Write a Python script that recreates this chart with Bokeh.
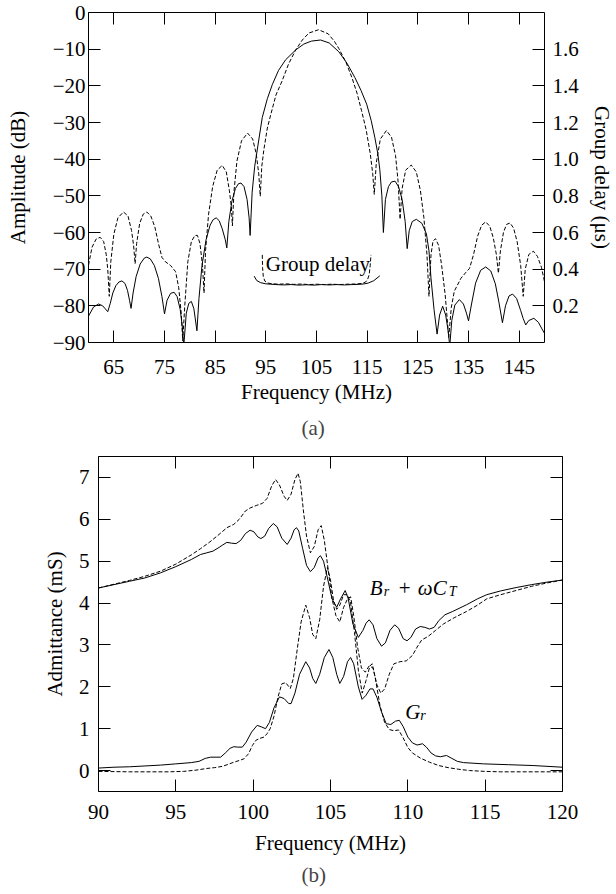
from bokeh.plotting import figure
from bokeh.models import Range1d, LinearAxis, FixedTicker, Label, Title
from bokeh.embed import file_html
from bokeh.resources import INLINE

FONT = "Liberation Serif"
FS = "21px"
SUB = "14px"

# ---------------- (a) frequency response ----------------
amp_solid_f = [60, 61, 62, 62.8, 63.3, 63.8,
               64.3, 64.8, 65.4, 66, 66.6, 67.2, 67.7, 68.1, 68.4,
               68.8, 69.4, 70.2, 71, 71.5, 72.2, 73, 73.8, 74.5, 75,
               75.5, 76.2, 76.9, 77.5, 78.1, 78.5, 78.8,
               79.3, 79.8, 80.3, 80.8, 81.4,
               81.8, 82.4, 83.2, 84, 84.6, 85.2, 85.8, 86.4, 87.0, 87.3,
               87.7, 88.3, 89.0, 89.6, 90.1, 90.7, 91.3, 91.7, 91.9,
               92.3, 92.8, 93.3, 94.3, 95.3, 96.3, 97.5, 98.9, 100.9, 102.5, 104, 105.8,
               107.5, 109.4, 111, 112.6, 113.8, 114.9, 115.8, 116.5, 117.1, 117.5, 117.9, 118.2,
               118.6, 119.2, 119.8, 120.5, 121.2, 121.9, 122.5, 122.9,
               123.3, 123.9, 124.7, 125.8, 126.7, 127.2, 127.6, 128.2, 128.8,
               129.3, 129.9, 130.5, 131.0, 131.3,
               131.7, 132.3, 133.2, 134, 134.6, 135,
               135.6, 136.4, 137.4, 138.4, 139.4, 140.3, 141, 141.7,
               142.3, 143, 143.7, 144.5, 145.3, 145.8, 146.3,
               146.9, 147.9, 148.8, 149.5, 150]
amp_solid_db = [-82.8, -80.3, -79.5, -80, -80.8, -81.6,
                -79.3, -76.5, -74.5, -73.5, -73.2, -73.9, -75.8, -78.5, -80.7,
                -76.5, -72, -68.6, -67, -66.7, -67.2, -69, -72.5, -77.5, -82.2,
                -78.5, -76.6, -76.3, -77.5, -81, -85.5, -91,
                -82, -79.3, -78.8, -80.8, -86.8,
                -78, -69, -62, -58, -56.5, -56, -56.8, -59, -62, -64.2,
                -57, -51.5, -48, -46.7, -46.5, -47.5, -51, -56, -60.8,
                -49, -42, -37.5, -28.6, -23.5, -19.6, -15.8, -12.9, -10.2, -8.6, -7.8, -7.5,
                -8.3, -10.7, -13.8, -17.8, -21.3, -25, -29.5, -34, -38.5, -42.9, -50, -60,
                -51, -47.5, -46.2, -46, -47.5, -51, -57, -64.4,
                -59.5, -57, -56.4, -57.5, -60.4, -65, -72.5, -81, -87.7,
                -82.5, -80.1, -82.5, -87, -91,
                -84, -79.8, -78.3, -79.5, -82, -84.1,
                -79.5, -73.8, -70.3, -69.4, -70.5, -74, -79, -84.6,
                -80, -77.3, -76.8, -78, -81.3, -83.5, -85.2,
                -84, -83.4, -84.5, -86.3, -87.5]

amp_dash_f = [60, 60.7, 61.5, 62.3, 63.0, 63.5, 63.8, 64.1,
              64.4, 65, 65.8, 66.9, 67.8, 68.5, 68.9, 69.2,
              69.5, 70.1, 70.8, 71.5, 72.3, 73.1, 73.8, 74.5, 75.2, 76.2, 77.2, 77.8, 78.3, 78.6,
              79, 79.6, 80.3, 81, 81.5, 82, 82.5, 82.8,
              83.1, 83.7, 84.5, 85.4, 86.4, 87.2, 87.8, 88.2, 88.4,
              88.7, 89.3, 90.2, 91.4, 92.4, 93.1, 93.6, 93.9,
              94.2, 94.6, 95.3, 96.0, 97, 98.2, 99.5, 100.9, 102.2, 103.5, 105.4, 107.3, 108.5,
              109.4, 110.8, 112, 113, 113.9, 114.8, 115.6, 116.1, 116.4,
              116.8, 117.6, 118.8, 119.8, 120.6, 121.1, 121.5,
              121.9, 122.6, 123.7, 124.7, 125.5, 126.2, 126.8, 127.2,
              127.6, 128.0, 128.5, 129.1, 129.7, 130.4, 131.1,
              131.6, 132.2, 133.5, 134.4, 135.2, 136, 136.8, 137.6, 138.4, 139.2, 139.9, 140.5, 140.9,
              141.3, 141.9, 142.5, 143.2, 143.9, 144.6, 145.3, 145.8,
              146.2, 146.9, 147.8, 148.6, 149.4, 150]
amp_dash_db = [-68.9, -64, -61.8, -61.3, -62.5, -66, -70, -77.4,
               -68, -60.5, -56, -54.4, -55.5, -59.5, -63.5, -68.5,
               -63, -57.5, -55, -54.4, -55.5, -58.5, -63, -66.8, -68, -69, -70.7, -75, -82, -89.5,
               -80, -68, -62.5, -60.8, -60.8, -63, -69, -76.5,
               -65, -55, -47.5, -43, -41.7, -43.5, -48.5, -53, -58.2,
               -49, -40.5, -35, -32.9, -34.5, -38.5, -44, -50.1,
               -42, -37.5, -31.5, -27.7, -22.5, -18.7, -14, -10.2, -7.5, -5.6, -4.7, -5.8, -7.8,
               -9.8, -13.5, -17.8, -22, -26.8, -32, -38.4, -44, -49.6,
               -41, -34.5, -32.2, -34, -39, -46, -56.4,
               -48, -43, -41.6, -43.5, -48.5, -56, -66, -77.4,
               -66, -62.3, -61.7, -63.5, -69, -77, -88.6,
               -80.5, -76, -72.5, -71, -69.8, -66, -61, -58, -57.1, -58.3, -61.5, -66, -71.1,
               -65, -60, -57.8, -57.4, -58.8, -62.5, -69, -77.4,
               -70, -66, -65.1, -66.5, -69.5, -73.4]

gd_solid_f = [92.7, 93.2, 94, 95, 96, 97, 98.5, 100, 101.5, 103, 104.5, 106, 107.5,
              109, 110.5, 112, 113.2, 114.2, 115.2, 116.3, 117.5]
gd_solid_us = [0.362, 0.338, 0.326, 0.320, 0.318, 0.316, 0.314, 0.316, 0.313, 0.315, 0.313,
               0.316, 0.314, 0.316, 0.314, 0.316, 0.317, 0.319, 0.324, 0.337, 0.364]
gd_dash_f = [94.3, 94.35, 94.5, 94.8, 95.3, 96, 97.5, 99, 100.5, 102, 103.5, 105, 106.5,
             108, 109.5, 111, 112.5, 114, 114.7, 115.1, 115.4, 115.6, 115.75]
gd_dash_us = [0.478, 0.41, 0.36, 0.335, 0.325, 0.321, 0.318, 0.320, 0.317, 0.319, 0.316,
              0.318, 0.316, 0.318, 0.316, 0.318, 0.319, 0.322, 0.33, 0.345, 0.37, 0.42, 0.478]

a_xticks = [65, 75, 85, 95, 105, 115, 125, 135, 145]
a_yticks = [0, -10, -20, -30, -40, -50, -60, -70, -80, -90]
a_ylabels = ["0", "\u221210", "\u221220", "\u221230", "\u221240", "\u221250",
             "\u221260", "\u221270", "\u221280", "\u221290"]
a_rticks = [0.2, 0.4, 0.6, 0.8, 1.0, 1.2, 1.4, 1.6]
a_rlabels = ["0.2", "0.4", "0.6", "0.8", "1.0", "1.2", "1.4", "1.6"]

# ---------------- (b) admittance ----------------
b_solid_f = [90, 91, 92, 93, 94, 95, 96, 96.6, 97.0, 97.4, 97.8, 98.0, 98.3, 98.6, 98.9,
             99.2, 99.5, 99.8, 100.05, 100.3, 100.5, 100.75, 101.0, 101.3, 101.55, 101.85,
             102.2, 102.45, 102.65, 102.8, 102.95, 103.2, 103.45, 103.7, 103.95, 104.2, 104.35,
             104.55, 104.8, 105.1, 105.4, 105.65, 105.95, 106.15, 106.45, 106.8, 107.1, 107.3,
             107.5, 107.75, 108.0, 108.3, 108.55, 108.85, 109.15, 109.4, 109.7, 109.95, 110.2,
             110.5, 110.8, 111.1, 111.4, 111.7, 112.0, 112.4, 112.9, 113.8, 114.5, 115.1, 116,
             117, 118, 119, 120]
b_solid_y = [4.36, 4.44, 4.52, 4.6, 4.72, 4.87, 5.04, 5.16, 5.2, 5.24, 5.33, 5.38, 5.45, 5.43, 5.42,
             5.5, 5.66, 5.74, 5.7, 5.58, 5.54, 5.6, 5.78, 5.9, 5.82, 5.55,
             5.4, 5.55, 5.75, 5.8, 5.72, 5.3, 4.9, 4.75, 4.85, 5.08, 5.13,
             5.0, 4.6, 4.1, 3.9, 4.1, 4.3, 4.1, 3.5, 3.18, 3.35, 3.52,
             3.6, 3.48, 3.15, 2.97, 3.05, 3.35, 3.48, 3.4, 3.15, 3.1, 3.18,
             3.38, 3.44, 3.42, 3.38, 3.42, 3.58, 3.72, 3.8, 3.96, 4.1, 4.2, 4.29,
             4.37, 4.44, 4.5, 4.55]
b_dash_f = [90, 91, 92, 93, 94, 95, 96, 96.6, 97.2, 97.8, 98.3, 98.75, 99.1, 99.5, 99.8,
            100.2, 100.6, 100.9, 101.2, 101.45, 101.7, 102.0, 102.2, 102.45, 102.7, 102.9,
            103.05, 103.25, 103.45, 103.7, 103.95, 104.2, 104.4, 104.6, 104.85, 105.1, 105.35,
            105.6, 105.85, 106.1, 106.3, 106.5, 106.75, 107.0, 107.25, 107.5, 107.75, 108.0,
            108.25, 108.5, 108.8, 109.1, 109.5, 109.9, 110.3, 110.6, 110.9, 111.3, 111.8,
            112.3, 113, 113.8, 114.5, 115.1, 116, 117, 118, 119, 120]
b_dash_y = [4.36, 4.45, 4.54, 4.64, 4.76, 4.93, 5.15, 5.3, 5.46, 5.64, 5.8, 5.88, 6.0, 6.2, 6.27,
            6.33, 6.38, 6.5, 6.8, 6.95, 6.82, 6.55, 6.45, 6.6, 6.95, 7.1,
            6.9, 6.2, 5.6, 5.2, 5.35, 5.75, 5.85, 5.5, 4.8, 4.1, 3.7,
            3.55, 3.9, 4.1, 4.15, 3.7, 2.95, 2.45, 2.35, 2.5, 2.45, 2.05,
            1.85, 1.95, 2.3, 2.55, 2.6, 2.62, 2.75, 2.95, 3.12, 3.2, 3.35,
            3.5, 3.65, 3.8, 3.95, 4.1, 4.2, 4.3, 4.4, 4.48, 4.55]
g_solid_f = [90, 91, 92, 93, 94, 95, 96, 96.5, 96.9, 97.25, 97.6, 97.9, 98.2, 98.5, 98.75,
             99.0, 99.3, 99.55, 99.9, 100.26, 100.55, 100.8, 101.05, 101.35, 101.7, 102.0,
             102.3, 102.45, 102.7, 103.0, 103.4, 103.65, 103.85, 104.05, 104.3, 104.6, 104.9,
             105.15, 105.4, 105.6, 105.85, 106.1, 106.3, 106.5, 106.8, 107.04, 107.3, 107.55,
             107.75, 108.0, 108.3, 108.6, 108.9, 109.2, 109.45, 109.7, 110.0, 110.3, 110.6,
             110.95, 111.2, 111.5, 111.8, 112.1, 112.5, 112.8, 113.2, 113.6, 114.9, 116.5,
             118.1, 120]
g_solid_y = [0.06, 0.08, 0.09, 0.11, 0.13, 0.16, 0.19, 0.22, 0.29, 0.32, 0.32, 0.32, 0.42, 0.53, 0.57,
             0.56, 0.56, 0.68, 0.92, 1.08, 1.04, 1.0, 1.15, 1.5, 1.76, 1.72,
             1.6, 1.6, 1.85, 2.3, 2.6, 2.45, 2.2, 2.08, 2.3, 2.7, 2.89,
             2.7, 2.3, 2.08, 2.25, 2.6, 2.7, 2.55, 2.0, 1.7, 1.8, 1.95,
             1.95, 1.75, 1.4, 1.12, 1.1, 1.18, 1.2, 1.05, 0.8, 0.66, 0.61,
             0.64, 0.56, 0.42, 0.35, 0.33, 0.36, 0.3, 0.22, 0.19, 0.16, 0.14,
             0.12, 0.08]
g_dash_f = [90, 92, 94.5, 95.5, 96.3, 97, 97.5, 98.0, 98.4, 98.75, 99.1, 99.4, 99.7, 99.95,
            100.2, 100.45, 100.7, 100.9, 101.1, 101.35, 101.6, 101.85, 102.1, 102.4, 102.6,
            102.85, 103.1, 103.4, 103.65, 103.85, 104.05, 104.3, 104.55, 104.8, 105.0, 105.2,
            105.4, 105.6, 105.85, 106.1, 106.3, 106.55, 106.8, 107.05, 107.3, 107.55, 107.7,
            107.9, 108.2, 108.5, 108.8, 109.1, 109.4, 109.7, 110.0, 110.3, 110.8, 111.4, 112,
            112.6, 113.3, 114, 115, 116, 120]
g_dash_y = [-0.02, -0.03, -0.03, -0.02, 0.01, 0.05, 0.07, 0.1, 0.15, 0.2, 0.24, 0.28, 0.4, 0.6,
            0.73, 0.77, 0.8, 0.88, 1.0, 1.3, 1.75, 2.07, 2.1, 1.96, 2.2,
            2.9, 3.55, 3.95, 3.65, 3.25, 3.15, 3.6, 4.4, 4.85, 4.55, 4.05,
            3.85, 3.95, 4.2, 4.2, 4.0, 3.3, 2.4, 1.85, 2.15, 2.5, 2.55,
            2.2, 1.55, 1.15, 0.98, 0.95, 0.97, 0.78, 0.55, 0.42, 0.3, 0.2, 0.12,
            0.07, 0.03, 0.0, -0.02, -0.03, -0.03]

b_xticks = [90, 95, 100, 105, 110, 115, 120]
b_yticks = [0, 1, 2, 3, 4, 5, 6, 7]


def style_axis(ax, ticks, labels=None, show=True):
    ax.ticker = FixedTicker(ticks=ticks)
    ax.major_tick_in = 12
    ax.major_tick_out = 0
    ax.major_tick_line_color = "black"
    ax.minor_tick_line_color = None
    ax.axis_line_color = None
    ax.major_label_text_font = FONT
    ax.major_label_text_color = "black"
    ax.axis_label_text_font = FONT
    ax.axis_label_text_font_style = "normal"
    ax.axis_label_text_font_size = FS
    ax.axis_label_text_color = "black"
    if show:
        ax.major_label_text_font_size = FS
        if labels is not None:
            ax.major_label_overrides = dict(zip(ticks, labels))
    else:
        ax.major_label_text_font_size = "1px"
        ax.major_label_text_color = None
        ax.major_label_standoff = 0


# ---- figure (a)
p1 = figure(width=616, height=446, output_backend="svg", toolbar_location=None,
            x_range=Range1d(60, 150), y_range=Range1d(-90, 0),
            min_border_left=88, min_border_right=68, min_border_top=12, min_border_bottom=104,
            x_axis_type=None, y_axis_type=None)
p1.extra_y_ranges = {"delay": Range1d(0, 1.8)}
p1.grid.visible = False
p1.outline_line_color = "black"
p1.outline_line_width = 1
p1.background_fill_color = "white"
p1.border_fill_color = "white"

xb = LinearAxis(axis_label="Frequency (MHz)")
style_axis(xb, a_xticks)
xb.major_label_standoff = 17
xb.axis_label_standoff = 3
p1.add_layout(xb, "below")
xt = LinearAxis()
style_axis(xt, a_xticks, show=False)
p1.add_layout(xt, "above")
yl = LinearAxis(axis_label="Amplitude (dB)")
style_axis(yl, a_yticks, a_ylabels)
yl.major_label_standoff = 3
yl.axis_label_standoff = 20
p1.add_layout(yl, "left")
yr = LinearAxis(y_range_name="delay", axis_label="Group delay (\u03bcs)")
style_axis(yr, a_rticks, a_rlabels)
yr.major_label_standoff = 8
yr.axis_label_standoff = 8
p1.add_layout(yr, "right")

p1.line(amp_solid_f, amp_solid_db, line_color="black", line_width=1)
p1.line(amp_dash_f, amp_dash_db, line_color="black", line_width=1, line_dash="4 2")
p1.line(gd_solid_f, gd_solid_us, line_color="black", line_width=1, y_range_name="delay")
p1.line(gd_dash_f, gd_dash_us, line_color="black", line_width=1, line_dash="4 2",
        y_range_name="delay")
p1.add_layout(Label(x=94.98, y=-68.5, text="Group delay", text_font=FONT, text_font_size=FS,
                    text_color="black", text_baseline="alphabetic"))
p1.add_layout(Title(text="(a)", align="left", offset=213, text_font=FONT,
                    text_font_size=FS, text_font_style="normal", standoff=14), "below")

# ---- figure (b)
p2 = figure(width=616, height=448, output_backend="svg", toolbar_location=None,
            x_range=Range1d(90, 120), y_range=Range1d(-0.5, 7.5),
            min_border_left=98, min_border_right=54, min_border_top=10, min_border_bottom=103,
            x_axis_type=None, y_axis_type=None)
p2.grid.visible = False
p2.outline_line_color = "black"
p2.outline_line_width = 1
p2.background_fill_color = "white"
p2.border_fill_color = "white"

xb2 = LinearAxis(axis_label="Frequency (MHz)")
style_axis(xb2, b_xticks)
xb2.major_label_standoff = 13
xb2.axis_label_standoff = 9
p2.add_layout(xb2, "below")
xt2 = LinearAxis()
style_axis(xt2, b_xticks, show=False)
p2.add_layout(xt2, "above")
yl2 = LinearAxis(axis_label="Admittance (mS)")
style_axis(yl2, b_yticks)
yl2.major_label_standoff = 9
yl2.axis_label_standoff = 9
p2.add_layout(yl2, "left")
yr2 = LinearAxis()
style_axis(yr2, b_yticks, show=False)
p2.add_layout(yr2, "right")

p2.line(b_solid_f, b_solid_y, line_color="black", line_width=1)
p2.line(b_dash_f, b_dash_y, line_color="black", line_width=1, line_dash="4 2")
p2.line(g_solid_f, g_solid_y, line_color="black", line_width=1)
p2.line(g_dash_f, g_dash_y, line_color="black", line_width=1, line_dash="4 2")

# math labels B_r + omega C_T and G_r
BX, BY = 107.53, 4.36
parts = [("B", 0, 0, FS), ("r", 14, -4, SUB), ("+", 29, 0, FS), ("\u03c9", 48, 0, FS),
         ("C", 63, 0, FS), ("T", 79, -4, SUB)]
for t, dx, dy, fs in parts:
    st = "normal" if t == "+" else "italic"
    p2.add_layout(Label(x=BX, y=BY, x_offset=dx, y_offset=dy, text=t, text_font=FONT,
                        text_font_size=fs, text_font_style=st, text_color="black",
                        text_baseline="alphabetic"))
GX, GY = 109.84, 1.40
for t, dx, dy, fs in [("G", 0, 0, FS), ("r", 15, -4, SUB)]:
    p2.add_layout(Label(x=GX, y=GY, x_offset=dx, y_offset=dy, text=t, text_font=FONT,
                        text_font_size=fs, text_font_style="italic", text_color="black",
                        text_baseline="alphabetic"))
p2.add_layout(Title(text="(b)", align="left", offset=203, text_font=FONT,
                    text_font_size=FS, text_font_style="normal", standoff=7), "below")

open("out.html", "w").write(file_html([p1, p2], INLINE))
